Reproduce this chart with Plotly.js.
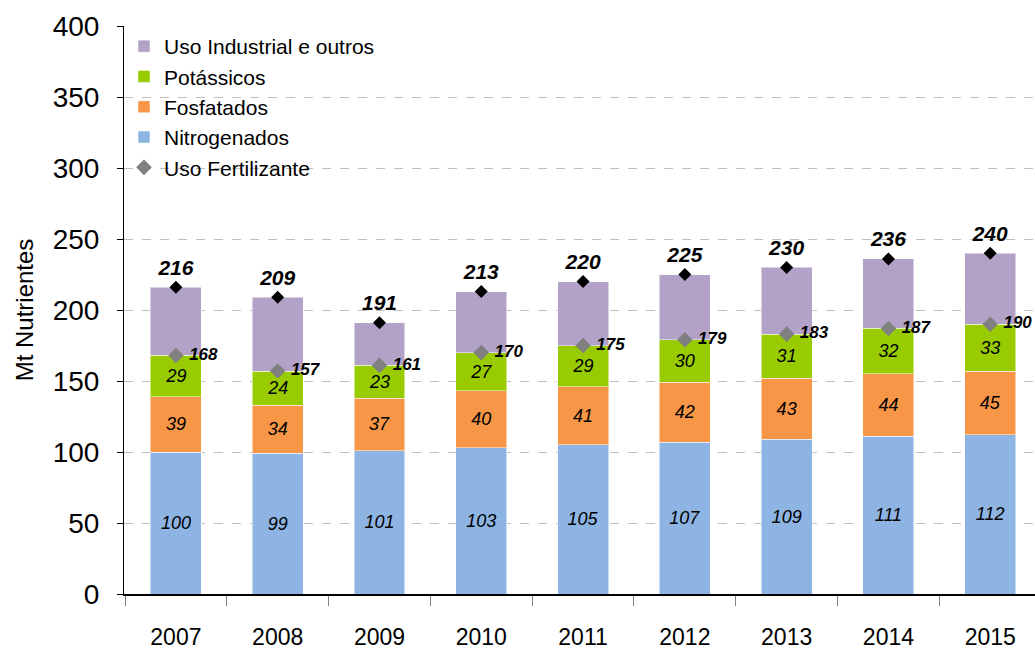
<!DOCTYPE html>
<html>
<head>
<meta charset="utf-8">
<script src="https://cdn.plot.ly/plotly-3.0.1.min.js"></script>
<style>html,body{margin:0;padding:0;background:#fff}#chart{width:1035px;height:652px}</style>
</head>
<body>
<div id="chart"></div>
<script>
const years = ["2007","2008","2009","2010","2011","2012","2013","2014","2015"];
const nitrogenados = [100,99,101,103,105,107,109,111,112];
const fosfatados = [39,34,37,40,41,42,43,44,45];
const potassicos = [29,24,23,27,29,30,31,32,33];
const usoFertilizante = [168,157,161,170,175,179,183,187,190];
const total = [216,209,191,213,220,225,230,236,240];
const usoIndustrial = total.map((t,i)=>t-usoFertilizante[i]);

const FONT = '"Liberation Sans", Arial, sans-serif';
const segFont = {family: FONT, size: 18, color: '#000', style: 'italic'};

function barTrace(name, y, color, showText, rank){
  return {
    type: 'bar', name: name, x: years, y: y,
    marker: {color: color, line: {color: 'rgba(255,255,255,0.5)', width: 1}},
    text: showText ? y.map(String) : undefined,
    textposition: showText ? 'inside' : 'none',
    insidetextanchor: 'middle',
    textfont: segFont,
    constraintext: 'none',
    width: 0.5,
    legendrank: rank,
    hoverinfo: 'x+y+name'
  };
}

const traces = [
  barTrace('Nitrogenados', nitrogenados, '#8DB4E2', true, 4),
  barTrace('Fosfatados', fosfatados, '#F79646', true, 3),
  barTrace('Potássicos', potassicos, '#99CC00', true, 2),
  barTrace('Uso Industrial e outros', usoIndustrial, '#B3A2C7', false, 1),
  {
    type: 'scatter', mode: 'markers+text', name: 'Uso Fertilizante',
    x: years, y: usoFertilizante,
    marker: {symbol: 'diamond', color: '#808080', size: 12},
    text: usoFertilizante.map(String),
    texttemplate: '\u00a0%{text}',
    textposition: 'middle right',
    textfont: {family: FONT, size: 17, color: '#000', style: 'italic', weight: 'bold'},
    cliponaxis: false,
    legendrank: 5
  },
  {
    type: 'scatter', mode: 'markers+text', name: 'Total', showlegend: false,
    x: years, y: total,
    marker: {symbol: 'diamond', color: '#000', size: 10},
    text: total.map(String), textposition: 'top center',
    textfont: {family: FONT, size: 21, color: '#000', style: 'italic', weight: 'bold'}
  }
];

const layout = {
  width: 1035, height: 652,
  margin: {l: 124, r: 0, t: 26, b: 58, pad: 0},
  barmode: 'stack',
  paper_bgcolor: '#fff', plot_bgcolor: '#fff',
  font: {family: FONT, color: '#000'},
  showlegend: true,
  legend: {
    x: 0.0, y: 1.0, xanchor: 'left', yanchor: 'top',
    traceorder: 'normal',
    bgcolor: 'rgba(0,0,0,0)', font: {family: FONT, size: 21, color: '#000'},
    tracegroupgap: 0, itemwidth: 30
  },
  xaxis: {
    type: 'category', range: [-0.51, 8.44],
    showline: true, linecolor: '#000', linewidth: 2,
    ticks: 'outside', tickson: 'boundaries', ticklen: 10, tickcolor: '#808080', tickwidth: 1,
    tickfont: {family: FONT, size: 23, color: '#000'},
    ticklabelstandoff: 21,
    showgrid: false, zeroline: false, fixedrange: true
  },
  yaxis: {
    range: [0, 400], tickvals: [0,50,100,150,200,250,300,350,400],
    showline: true, linecolor: '#000', linewidth: 1,
    ticks: 'outside', ticklen: 6, tickcolor: '#000',
    tickfont: {family: FONT, size: 28, color: '#000'},
    ticklabelstandoff: 12,
    showgrid: true, gridcolor: '#BFBFBF', griddash: 'dash', gridwidth: 1,
    zeroline: false,
    title: {text: 'Mt Nutrientes', font: {family: FONT, size: 24, color: '#000'}, standoff: 12},
    fixedrange: true
  }
};

Plotly.newPlot('chart', traces, layout, {displayModeBar: false, staticPlot: true});
</script>
</body>
</html>
